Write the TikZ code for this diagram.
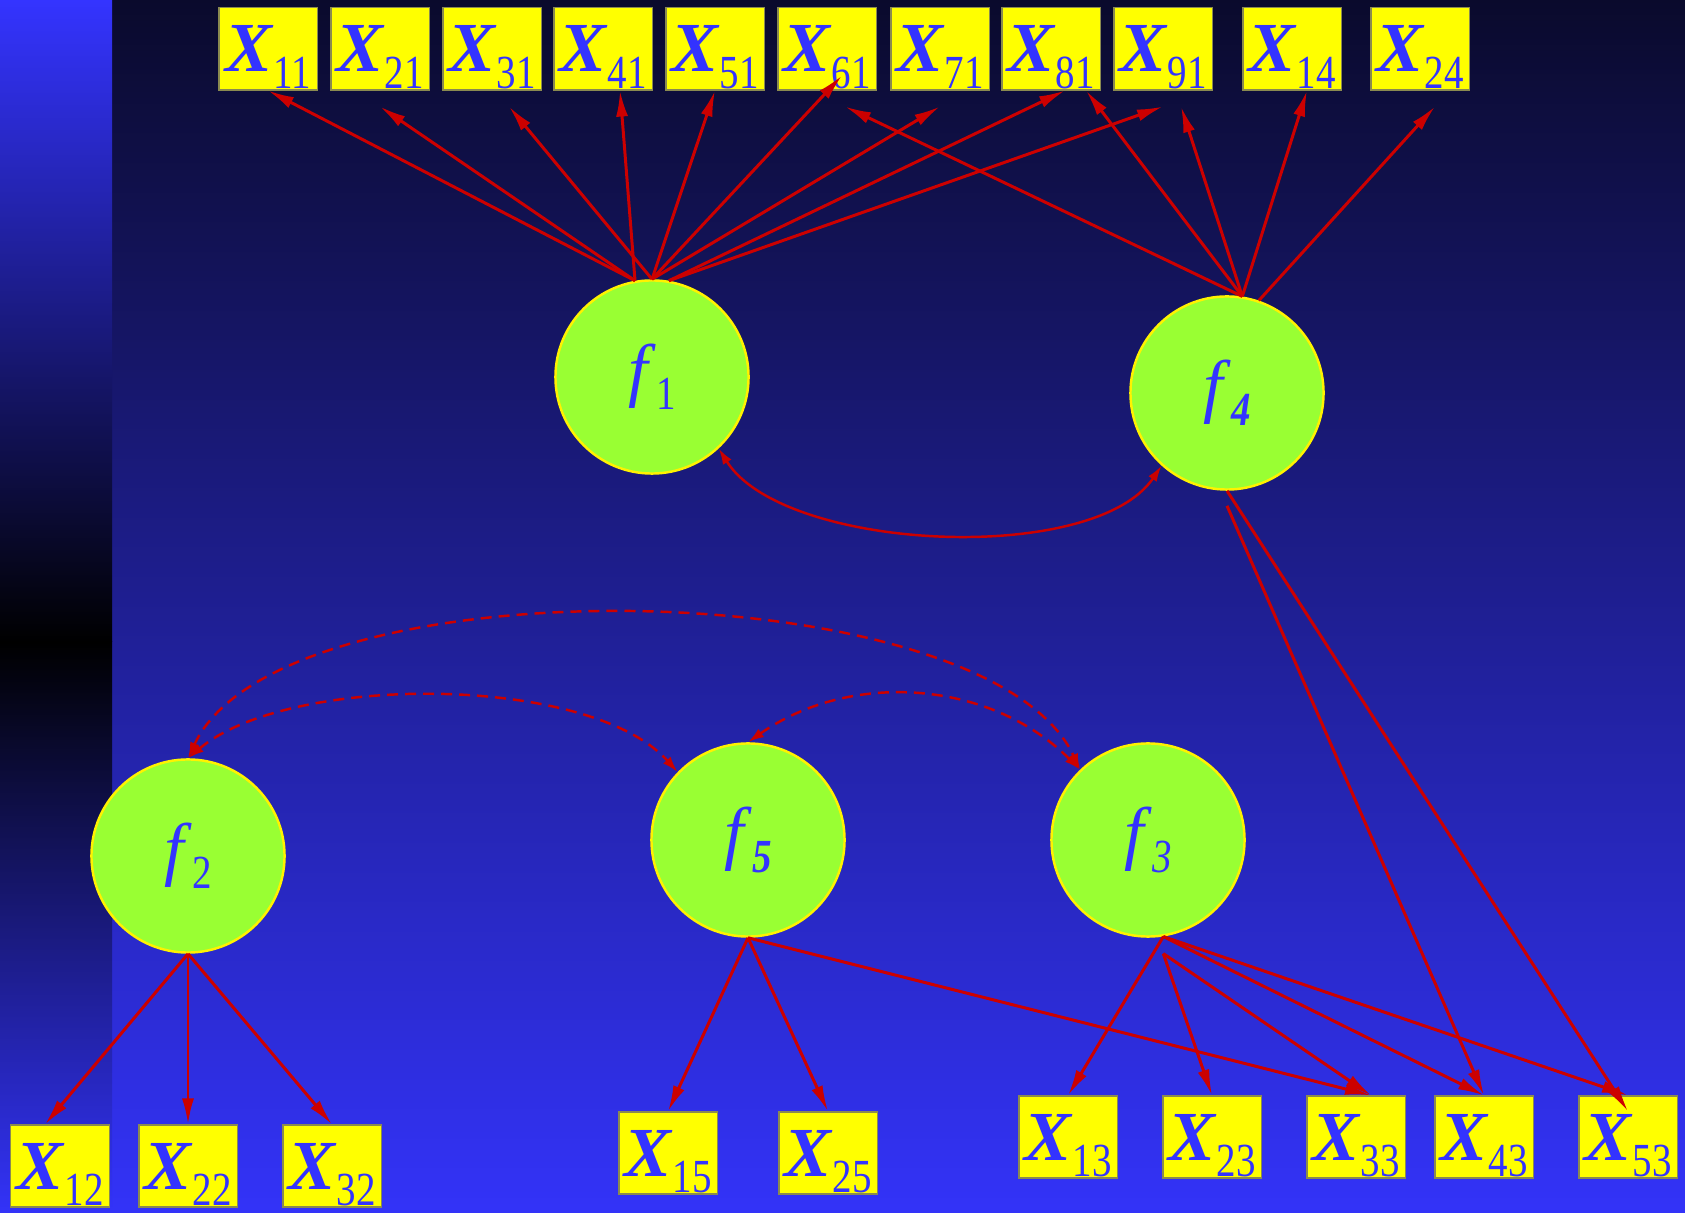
\documentclass[tikz,border=0pt]{standalone}
\usepackage{fontspec}
\setmainfont{Liberation Serif}
\usepackage{graphicx}
\usetikzlibrary{arrows.meta}
\definecolor{loadred}{HTML}{CC0000}
\definecolor{boxyellow}{HTML}{FFFF00}
\definecolor{boxline}{HTML}{8A8A50}
\definecolor{factorgreen}{HTML}{99FF33}
\definecolor{labelblue}{HTML}{3333FF}
\definecolor{bgtop}{HTML}{0A0A2C}
\definecolor{bgbottom}{HTML}{3333F8}
\definecolor{bandtop}{HTML}{3434FF}
\definecolor{bandmid}{HTML}{2626BE}
\newcommand{\subtxt}[1]{\raisebox{-0.16cm}{\fontsize{13.5}{14}\selectfont\scalebox{0.82}[1]{#1}}}
\newcommand{\obsx}[1]{\textbf{\textit{X}}\subtxt{#1}}
\newcommand{\facname}[1]{\textit{f}\subtxt{#1}}
\tikzset{
  indicator/.style={
    draw=boxline,
    line width=0.3pt,
    fill=boxyellow,
    text=labelblue,
    minimum width=0.98cm,
    inner sep=0pt,
    text height=0.64cm,
    text depth=0.18cm,
    font=\fontsize{20}{22}\selectfont,
  },
  latent/.style={
    circle,
    draw=yellow,
    line width=0.7pt,
    fill=factorgreen,
    text=labelblue,
    minimum size=1.93cm,
    inner sep=0pt,
    font=\fontsize{20}{22}\selectfont,
  },
  load/.style={color=loadred, line width=0.85pt, -{Latex[length=2.6mm,width=1.2mm]}},
  corr/.style={color=loadred, line width=0.7pt,
    {Latex[length=1.6mm,width=1mm]}-{Latex[length=1.6mm,width=1mm]}},
  dashcorr/.style={corr, dash pattern=on 1.1mm off 0.7mm},
}

\begin{document}
\begin{tikzpicture}[x=0.01cm, y=0.01cm]
      \useasboundingbox (0,0) rectangle (1685,1212);
      % background
      \shade[top color=bgtop, bottom color=bgbottom] (112,0) rectangle (1685,1212);
      \shade[top color=bandtop, middle color=bandmid, bottom color=black] (0,570) rectangle (112,1212);
      \shade[top color=black, bottom color=bgbottom] (0,0) rectangle (112,570);

      \node[indicator] (X11) at (268,1163)  {\obsx{11}};
      \node[indicator] (X21) at (380,1163)  {\obsx{21}};
      \node[indicator] (X31) at (492,1163)  {\obsx{31}};
      \node[indicator] (X41) at (603,1163)  {\obsx{41}};
      \node[indicator] (X51) at (715,1163)  {\obsx{51}};
      \node[indicator] (X61) at (827,1163)  {\obsx{61}};
      \node[indicator] (X71) at (940,1163)  {\obsx{71}};
      \node[indicator] (X81) at (1051,1163) {\obsx{81}};
      \node[indicator] (X91) at (1163,1163) {\obsx{91}};
      \node[indicator] (X14) at (1292,1163) {\obsx{14}};
      \node[indicator] (X24) at (1420,1163) {\obsx{24}};

      \node[latent] (f1) at (652,835)  {\facname{1}};
      \node[latent] (f4) at (1227,819) {\facname{\textbf{\textit{4}}}};
      \node[latent] (f2) at (188,356)  {\facname{2}};
      \node[latent] (f5) at (748,372)  {\facname{\textbf{\textit{5}}}};
      \node[latent] (f3) at (1148,372) {\facname{\textit{3}}};

      \node[indicator] (X12) at (60,46)    {\obsx{12}};
      \node[indicator] (X22) at (188,46)   {\obsx{22}};
      \node[indicator] (X32) at (332,46)   {\obsx{32}};
      \node[indicator] (X15) at (668,59)   {\obsx{15}};
      \node[indicator] (X25) at (828,59)   {\obsx{25}};
      \node[indicator] (X13) at (1068,75)  {\obsx{13}};
      \node[indicator] (X23) at (1212,75)  {\obsx{23}};
      \node[indicator] (X33) at (1356,75)  {\obsx{33}};
      \node[indicator] (X43) at (1484,75)  {\obsx{43}};
      \node[indicator] (X53) at (1628,75)  {\obsx{53}};

      % f1 loadings
      \path[load] (f1.100)  edge (X11.south);
      \path[load] (f1.100)  edge ([yshift=-0.16cm]X21.south);
      \path[load] (f1.north) edge ([xshift=0.17cm,yshift=-0.16cm]X31.south);
      \path[load] (f1.100)  edge ([xshift=0.17cm]X41.south);
      \path[load] (f1.north) edge (X51.south);
      \path[load] (f1.north) edge ([xshift=0.15cm,yshift=0.15cm]X61.south);
      \path[load] (f1.north) edge ([yshift=-0.16cm]X71.south);
      \path[load] (f1.80)   edge ([xshift=0.14cm]X81.south);
      \path[load] (f1.80)   edge ([yshift=-0.16cm]X91.south);

      % f4 loadings
      \path[load] (f4.81) edge ([xshift=0.18cm,yshift=-0.16cm]X61.south);
      \path[load] (f4.81) edge ([xshift=0.35cm]X81.south);
      \path[load] (f4.81) edge ([xshift=0.18cm,yshift=-0.16cm]X91.south);
      \path[load] (f4.81) edge ([xshift=0.15cm]X14.south);
      \path[load] (f4.71) edge ([xshift=0.15cm,yshift=-0.16cm]X24.south);
      \path[load] (f4.south) edge ([yshift=-0.16cm]X53.north);
      \path[load] ([yshift=-0.15cm]f4.south) edge (X43.north);

      \path[corr] (f1.-47) edge[out=-58, in=-124, looseness=0.7] (f4.-132);

      % f2, f5, f3 loadings
      \path[load] (f2.south) edge ([xshift=-0.15cm]X12.north);
      \path[load] (f2.south) edge (X22.north);
      \path[load] (f2.south) edge (X32.north);

      \path[load] (f5.south) edge (X15.north);
      \path[load] (f5.south) edge (X25.north);
      \path[load] (f5.south) edge ([xshift=0.15cm]X33.north);

      \path[load] (f3.-81) edge (X13.north);
      \path[load] ([yshift=-0.17cm]f3.-81) edge (X23.north);
      \path[load] ([yshift=-0.17cm]f3.-81) edge ([xshift=0.15cm]X33.north);
      \path[load] (f3.-81) edge (X43.north);
      \path[load] (f3.-81) edge (X53.north);

      \path[dashcorr] (f2.north) edge[out=65, in=115, looseness=0.63] (f3.134);
      \path[dashcorr] (f2.north) edge[out=40, in=132, looseness=0.69] (f5.136);
      \path[dashcorr] (f5.north) edge[out=35, in=135, looseness=0.97] (f3.134);
\end{tikzpicture}
\end{document}
